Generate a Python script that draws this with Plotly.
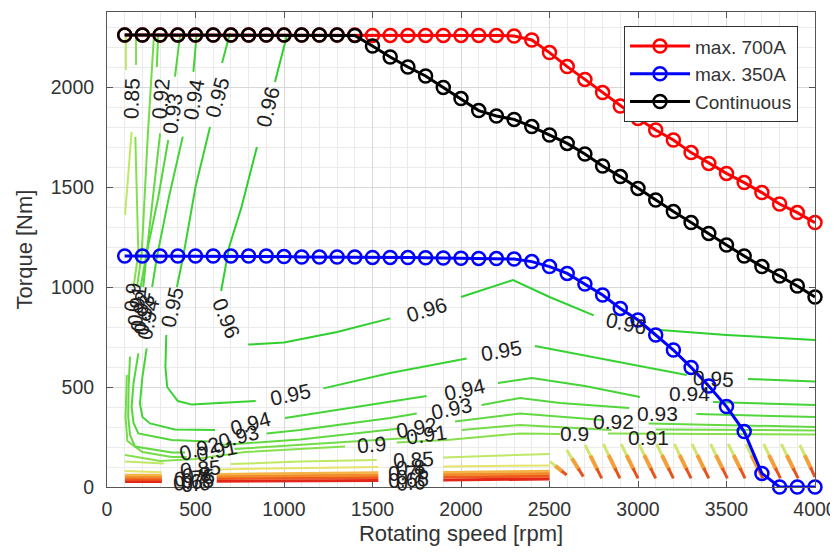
import plotly.graph_objects as go

# ---------------- series data ----------------
rpm = [100, 200, 300, 400, 500, 600, 700, 800, 900, 1000,
       1100, 1200, 1300, 1400, 1500, 1600, 1700, 1800, 1900, 2000,
       2100, 2200, 2300, 2400, 2500, 2600, 2700, 2800, 2900, 3000,
       3100, 3200, 3300, 3400, 3500, 3600, 3700, 3800, 3900, 4000]

torque_700A = [2260, 2260, 2260, 2260, 2260, 2260, 2260, 2260, 2260, 2260,
               2260, 2260, 2260, 2260, 2258, 2258, 2258, 2258, 2258, 2258,
               2258, 2258, 2255, 2235, 2172, 2102, 2038, 1972, 1905, 1843,
               1785, 1735, 1672, 1618, 1568, 1522, 1472, 1415, 1372, 1322]

torque_350A = [1155, 1155, 1155, 1155, 1155, 1155, 1155, 1155, 1155, 1152,
               1150, 1150, 1150, 1150, 1148, 1148, 1147, 1146, 1145, 1144,
               1143, 1142, 1140, 1127, 1102, 1068, 1015, 960, 893, 835,
               760, 685, 598, 505, 402, 277, 68, 0, 0, 0]

torque_cont = [2260, 2260, 2260, 2260, 2260, 2260, 2260, 2260, 2260, 2260,
               2260, 2260, 2260, 2258, 2205, 2150, 2100, 2055, 1998, 1942,
               1882, 1855, 1838, 1802, 1760, 1718, 1665, 1605, 1552, 1493,
               1435, 1377, 1322, 1268, 1210, 1155, 1102, 1055, 1005, 950]

series_names = ["max. 700A", "max. 350A", "Continuous"]

# ---------------- efficiency contour lines ----------------
c96x = [1017, 949, None, 847, 760, 690, 660, 645, None, 798, 1000, 1300, 1600, None,
        2000, 2294, 2500, 2750, None, 3124, 3500, 4000]
c96y = [2260, 2025, None, 1700, 1400, 1200, 1050, 980, None, 712, 722, 775, 843, None,
        950, 1035, 950, 858, None, 785, 760, 735]

c95x = [695, 650, None, 582, 500, 430, 395, None, 335, 330, 340, 400, 480, 840, None,
        1222, 1600, 2032, None, 2418, 2800, 3275, None, 3621, 4000]
c95y = [2270, 2120, None, 1800, 1500, 1150, 1000, None, 760, 600, 500, 430, 412, 430, None,
        493, 570, 643, None, 705, 640, 560, None, 540, 527]

c94x = [507, 488, None, 428, 350, 282, 255, None, 224, 200, 186, 200, 243, 384, 610, None,
        1006, 1400, 1806, None, 2209, 2400, 2700, 3011, None, 3424, 4000]
c94y = [2268, 2076, None, 1752, 1450, 1150, 1000, None, 693, 550, 418, 350, 318, 288, 285, None,
        345, 400, 455, None, 520, 545, 505, 450, None, 425, 410]

c93x = [412, 384, None, 346, 290, 224, 205, None, 177, 150, 139, 150, 177, 366, 572, None,
        902, 1090, 1600, 1750, None, 2117, 2333, 2560, 2950, None, 3330, 4000]
c93y = [2252, 2052, None, 1735, 1450, 1168, 1000, None, 668, 520, 402, 320, 268, 235, 227, None,
        268, 285, 345, 368, None, 410, 445, 420, 395, None, 365, 350]

c92x = [290, 281, None, 300, 260, 224, 190, None, 130, 122, 120, 130, 158, 366, 441, None,
        640, 1090, 1655, None, 1966, 2333, 2800, None, 3060, 4000]
c92y = [2268, 2100, None, 1768, 1450, 1168, 1000, None, 652, 500, 352, 260, 202, 172, 172, None,
        210, 238, 293, None, 327, 368, 335, None, 318, 300]

c91x = [266, 230, 196, 170, None, 112, 105, 115, 200, 366, 450, None,
        720, 1090, 1700, None, 2004, 2333, 2850, None, 3100, 4000]
c91y = [2268, 1750, 1168, 1000, None, 560, 350, 230, 175, 150, 150, None,
        190, 210, 245, None, 285, 310, 285, None, 288, 283]

c90x = [164, 164, None, 160, 177, 150, None, 102, 300, 500, 780, 1345, None,
        1637, 1920, 2333, 2560, None, 2830, 4000]
c90y = [2255, 2110, None, 1750, 1168, 1000, None, 160, 130, 140, 175, 202, None,
        222, 235, 268, 265, None, 268, 262]

c85x = [107, 107, None, 139, 120, 102, None, 102, 322, None, 700, 1090, 1524, None, 1900, 2333, 2500]
c85y = [2268, 2085, None, 1776, 1560, 1360, None, 127, 118, None, 115, 127, 135, None, 148, 160, 165]

band_x = [102, 310, None, 620, 1533, None, 1900, 2500]
c80y = [80, 74, None, 88, 100, None, 102, 108]
c75y = [60, 60, None, 64, 72, None, 74, 80]
c70y = [50, 50, None, 54, 60, None, 62, 68]
c65y = [39, 39, None, 43, 48, None, 50, 54]
c60y = [27, 27, None, 29, 33, None, 35, 40]

# field-weakening region strokes (start / end of each stroke)
tooth_x0 = [2503, 2597, 2701, 2804, 2905, 3005, 3105, 3205, 3305, 3410, 3510, 3610, 3710, 3810, 3915]
tooth_y0 = [127, 185, 210, 215, 215, 215, 215, 215, 215, 215, 215, 215, 215, 215, 210]
tooth_x1 = [2597, 2691, 2795, 2898, 3000, 3100, 3200, 3300, 3400, 3505, 3605, 3705, 3805, 3905, 4000]
tooth_y1 = [60, 52, 43, 43, 43, 43, 43, 43, 43, 43, 43, 43, 43, 43, 50]

# contour labels
lab_text = ["0.96", "0.96", "0.96", "0.96",
            "0.95", "0.95", "0.95", "0.95", "0.95",
            "0.94", "0.94", "0.94", "0.94",
            "0.93", "0.93", "0.93", "0.93",
            "0.92", "0.92", "0.92", "0.92",
            "0.91", "0.91", "0.91",
            "0.9", "0.9",
            "0.85", "0.85", "0.85",
            "0.9", "0.91", "0.92", "0.93", "0.94",
            "0.8", "0.75", "0.7", "0.65", "0.6",
            "0.8", "0.75", "0.7", "0.65", "0.6"]
lab_x = [905, 676, 1806, 2936,
         620, 365, 1035, 2230, 3424,
         486, 808, 2020, 3290,
         367, 745, 1945, 3110,
         300, 525, 1750, 2860,
         620, 1806, 3060,
         1495, 2640,
         135, 530, 1730,
         140, 165, 185, 205, 230,
         505, 495, 500, 490, 500,
         1715, 1705, 1715, 1705, 1712]
lab_y = [1900, 843, 890, 818,
         1950, 900, 462, 682, 545,
         1935, 318, 490, 468,
         1870, 255, 395, 368,
         1940, 195, 298, 330,
         185, 262, 250,
         212, 268,
         1945, 92, 138,
         950, 905, 880, 860, 840,
         62, 48, 36, 26, 18,
         98, 72, 55, 40, 25]
lab_ang = [-76, 68, -17, 12,
           -75, -77, -12, -10, 3,
           -80, -15, -12, 0,
           -82, -15, -12, 0,
           -85, -15, -10, 0,
           -12, -8, 0,
           -5, 0,
           -88, -5, -3,
           -85, -83, -82, -80, -78,
           -5, -5, -5, -5, -5,
           -3, -3, -3, -3, -3]

# ---------------- figure ----------------
fig = go.Figure()

levels = [
    (c60y, band_x, "#e2261a", 3.0),
    (c65y, band_x, "#ee5a1e", 3.0),
    (c70y, band_x, "#f18a2a", 3.0),
    (c75y, band_x, "#f3b347", 2.5),
    (c80y, band_x, "#e4e46a", 2.0),
]
for yy, xx, col, w in levels:
    fig.add_trace(go.Scatter(x=xx, y=yy, mode="lines", line=dict(color=col, width=w),
                             showlegend=False, hoverinfo="skip"))

green_levels = [
    (c85x, c85y, "#bfe866"),
    (c90x, c90y, "#86e04e"),
    (c91x, c91y, "#74dc48"),
    (c92x, c92y, "#62d842"),
    (c93x, c93y, "#52d63c"),
    (c94x, c94y, "#44d437"),
    (c95x, c95y, "#38d232"),
    (c96x, c96y, "#2ecf2e"),
]
for xx, yy, col in green_levels:
    fig.add_trace(go.Scatter(x=xx, y=yy, mode="lines", line=dict(color=col, width=2),
                             showlegend=False, hoverinfo="skip"))

# strokes in field-weakening region, three colour parts each
seg_parts = [(0.0, 0.40, "#cfe672", 3.0), (0.32, 0.75, "#f2a03a", 4.0), (0.70, 1.0, "#e4541e", 3.0)]
for f0, f1, col, w in seg_parts:
    sx, sy = [], []
    for x0, y0, x1, y1 in zip(tooth_x0, tooth_y0, tooth_x1, tooth_y1):
        sx += [x0 + (x1 - x0) * f0, x0 + (x1 - x0) * f1, None]
        sy += [y0 + (y1 - y0) * f0, y0 + (y1 - y0) * f1, None]
    fig.add_trace(go.Scatter(x=sx, y=sy, mode="lines", line=dict(color=col, width=w),
                             showlegend=False, hoverinfo="skip"))

series = [(torque_700A, "#ff0000"), (torque_350A, "#0000ff"), (torque_cont, "#000000")]
for (vals, col), name in zip(series, series_names):
    fig.add_trace(go.Scatter(
        x=rpm, y=vals, mode="lines+markers", name=name,
        line=dict(color=col, width=3),
        marker=dict(symbol="circle-open", size=13, color=col, line=dict(width=2.5, color=col)),
        cliponaxis=False))

for t, x, y, a in zip(lab_text, lab_x, lab_y, lab_ang):
    fig.add_annotation(x=x, y=y, text=t, textangle=a, showarrow=False,
                       font=dict(family="Liberation Sans", size=21, color="#1e1e1e"))

axis_common = dict(
    showline=True, linecolor="#555555", linewidth=1, mirror="ticks",
    ticks="inside", ticklen=6, tickcolor="#555555",
    showgrid=True, gridcolor="#d8d8d8", gridwidth=1, zeroline=False,
    tickfont=dict(family="Liberation Sans", size=19.5, color="#333333"),
    automargin=False,
)

fig.update_xaxes(range=[0, 4000], dtick=500, tick0=0,
                 minor=dict(dtick=100, showgrid=True, gridcolor="#ebebeb", ticks=""),
                 title=dict(text="Rotating speed [rpm]", standoff=6,
                            font=dict(family="Liberation Sans", size=22, color="#333333")),
                 ticklabelstandoff=5,
                 **axis_common)
fig.update_yaxes(range=[0, 2375], dtick=500, tick0=0,
                 minor=dict(dtick=100, showgrid=True, gridcolor="#ebebeb", ticks=""),
                 title=dict(text="Torque [Nm]", standoff=12,
                            font=dict(family="Liberation Sans", size=22, color="#333333")),
                 ticklabelstandoff=8,
                 **axis_common)

# the page adds an 8 px body margin, so the figure is made 8 px smaller on each side
fig.update_layout(
    width=830, height=550,
    margin=dict(l=99, r=23, t=4, b=71),
    plot_bgcolor="#ffffff", paper_bgcolor="#ffffff",
    font=dict(family="Liberation Sans"),
    legend=dict(x=0.976, y=0.97, xanchor="right", yanchor="top",
                bgcolor="#ffffff", bordercolor="#333333", borderwidth=1,
                font=dict(family="Liberation Sans", size=19, color="#333333"),
                itemwidth=60, tracegroupgap=0),
    showlegend=True,
)

fig.write_html("out.html")
